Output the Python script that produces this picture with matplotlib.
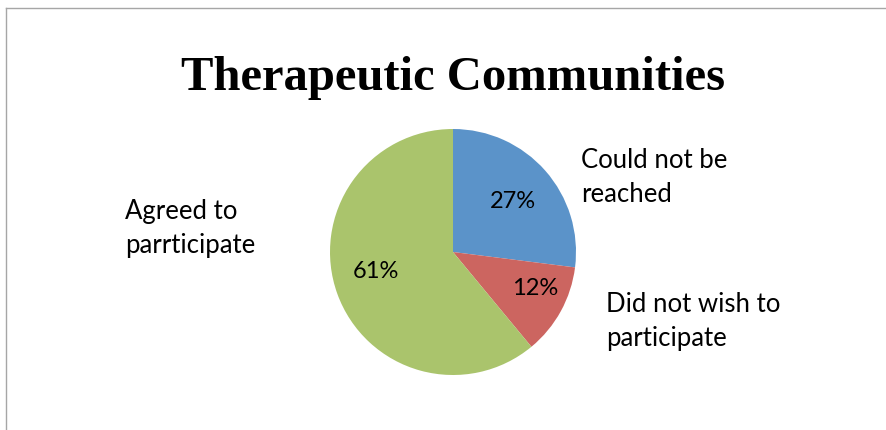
import matplotlib
matplotlib.use("Agg")
import matplotlib.pyplot as plt
from matplotlib.lines import Line2D

labels = ["Could not be\nreached", "Did not wish to\nparticipate", "Agreed to\nparrticipate"]
shares = [27, 12, 61]
colors = ["#5B93C9", "#CC6560", "#AAC46C"]
title = "Therapeutic Communities"

fig = plt.figure(figsize=(8.86, 4.3), dpi=100)
W, H = 886, 430

# pie placed by pixel: centre (453, 252), radius 123
cx, cy, r = 453, 252, 123
ax = fig.add_axes([(cx - r) / W, (H - cy - r) / H, 2 * r / W, 2 * r / H])
wedges, texts, autotexts = ax.pie(shares, colors=colors, startangle=90, counterclock=False,
                                  autopct="%d%%", pctdistance=0.65,
                                  wedgeprops=dict(linewidth=0),
                                  textprops=dict(fontsize=17, family="Lato"))
ax.set_xlim(-1, 1)
ax.set_ylim(-1, 1)
ax.set_aspect("equal")

# percentage labels sit where the reference puts them
pct_pos = [(0.49, 0.41), (0.67, -0.30), (-0.63, -0.16)]
for t, p in zip(autotexts, pct_pos):
    t.set_position(p)

# outside labels, left aligned: (x, baseline of last line) in pixels
label_pos = [(581, 202), (606, 346), (125, 253)]
for txt, (x, y) in zip(labels, label_pos):
    fig.text(x / W, 1 - y / H, txt, ha="left", va="baseline", fontsize=18.5,
             family="Lato", linespacing=1.45)

fig.text(cx / W, 1 - 90 / H, title, ha="center", va="baseline", fontsize=35,
         family="Liberation Serif", fontweight="bold")

# frame of the chart area (top and left edges visible)
fig.add_artist(Line2D([6 / W, 1], [1 - 8 / H, 1 - 8 / H], color="#A6A6A6", lw=1))
fig.add_artist(Line2D([6 / W, 6 / W], [0, 1 - 8 / H], color="#A6A6A6", lw=1))

fig.savefig("out.png", dpi=100)
